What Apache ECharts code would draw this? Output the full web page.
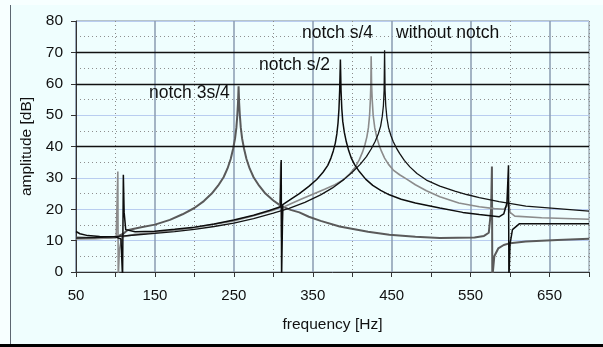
<!DOCTYPE html>
<html><head><meta charset="utf-8">
<script src="https://cdn.jsdelivr.net/npm/echarts@6/dist/echarts.min.js"></script>
<style>html,body{margin:0;padding:0;background:#f7ffff;}#c{width:603px;height:347px;}</style>
</head><body><div id="c"></div>
<script>
// ---- data (frequency [Hz], amplitude [dB]) ----
const withoutNotch = [[50,10.8],[75,11],[100,11.3],[125,11.8],[150,12.3],[175,12.9],[200,13.6],[225,14.5],[250,15.6],[275,17],[300,18.8],[320,20.3],[340,22.2],[360,24.6],[375,26.8],[390,29.6],[400,31.8],[410,34.3],[418,36.8],[424,39.2],[429,41.6],[433,44],[436,46.5],[438,49.5],[439.5,53],[440.4,58],[441,70.7],[441.6,58],[442.5,53],[444,49],[446,46],[449,43.5],[452,41.5],[456,39.5],[460,37.8],[466,35.6],[473,33.5],[482,31.4],[494,29.3],[511,27.4],[530,25.8],[545,24.7],[561,23.7],[586,22.4],[620,21],[660,20.2],[700,19.4]];
const notchS4 = [[50,10.5],[75,10.6],[95,10.9],[101,11.5],[103,32],[103.5,-2],[105,7],[108,11.2],[125,12],[150,12.6],[175,13.3],[200,14.1],[225,15.2],[250,16.3],[275,17.9],[300,19.7],[308,20.5],[309.5,35],[310.5,11],[312,20.6],[320,21.5],[335,23.2],[350,24.8],[365,26.4],[378,27.8],[388,29.3],[397,31.3],[404,33.5],[409,35.8],[413,38.2],[416,40.5],[418.5,43],[420.5,46],[422,50],[423,55],[423.6,60],[424,68.8],[424.5,60],[425.3,55],[426.5,50],[428.5,46],[431,43],[434,40.5],[437,38.5],[441,36.3],[446,34.3],[452,32.5],[460,31],[469,29.6],[480,27.8],[494,25.9],[511,24],[535,22],[561,20.8],[580,20.2],[592,20],[596,21],[598,22.5],[600,19],[606,17.8],[640,17.3],[700,16.8]];
const notchS2 = [[50,12.9],[55,12.2],[65,11.6],[80,11.3],[100,11.2],[107,10.5],[109,-2],[110,31],[111,19],[113,13.5],[125,12.8],[150,13],[175,13.6],[200,14.3],[225,15.3],[250,16.6],[275,18.1],[295,19.6],[309,20.8],[310,35.7],[310.5,-2],[312,21.5],[320,22.8],[333,25],[345,27.3],[355,29.5],[363,31.8],[369,34],[373,36.3],[376,38.6],[378.5,41],[380.5,44],[382,47.5],[383.2,52],[384.1,58],[385,67.7],[385.8,58],[386.8,52],[388,48],[390,44.5],[392.5,41.5],[395.5,38.7],[399,36.2],[403,34.2],[409,32],[417,29.6],[426,27.6],[436,26],[447,24.6],[462,23.2],[480,22],[511,20.4],[540,19],[561,18.3],[586,17.6],[592,18.5],[596,22],[598,34],[598.5,-2],[600,9],[603,13.5],[612,15.4],[650,15.4],[700,15.4]];
const notch3S4 = [[50,11],[75,10.8],[100,11],[110,12.2],[115,13.3],[131,14.2],[150,15.1],[169,16.6],[185,18.4],[200,20.4],[212,22.6],[222,25],[230,27.5],[237,30.2],[242,33],[246,36],[249,39.2],[251.5,42.5],[253.2,46],[254.4,50],[255.3,54],[256,59.2],[256.7,54],[257.6,50],[258.8,46],[260.5,42.5],[263,39.2],[266,36],[270,33],[275,30.2],[282,27.5],[290,25],[300,22.8],[310,21],[322,19.8],[333,19],[345,17.6],[360,16.3],[384,14.5],[420,12.8],[447,11.9],[480,11.2],[511,10.8],[555,11],[567,11.5],[573,12.5],[576,20],[577,33.6],[577.5,-2],[580,5],[585,7.5],[592,8.6],[600,9.2],[620,9.7],[660,10.2],[700,10.6]];
const seriesNames = ['without notch','notch s/4','notch s/2','notch 3s/4'];
const xTicks = [50,150,250,350,450,550,650];
const yTicks = [0,10,20,30,40,50,60,70,80];
const darkGridValues = [40,60,70];
const labels = [
  {text:'notch 3s/4', x:149, y:94},
  {text:'notch s/2', x:259, y:66},
  {text:'notch s/4', x:302, y:34},
  {text:'without notch', x:396, y:34}
];

const chart = echarts.init(document.getElementById('c'), null, {renderer:'canvas'});
const F = 'Liberation Sans, Arial, sans-serif';
chart.setOption({
  backgroundColor:'#f7ffff',
  animation:false,
  graphic:[
    {type:'rect', z:-10, shape:{x:10,y:5,width:593,height:339}, style:{fill:'#effefe'}},
    {type:'line', z:-9, shape:{x1:10.5,y1:5,x2:10.5,y2:344}, style:{stroke:'#5c6670', lineWidth:1}},
    {type:'rect', z:-9, shape:{x:0,y:344,width:603,height:3}, style:{fill:'#000'}}
  ].concat(labels.map(l=>({type:'text', left:l.x, top:l.y-10, z:50, style:{text:l.text, font:'17.5px '+F, fill:'#111'}}))),
  grid:{left:76, right:14, top:21, bottom:75, show:true, borderColor:'#7d8a99', borderWidth:1, backgroundColor:'transparent'},
  xAxis:[{
    type:'value', min:50, max:700, interval:50,
    name:'frequency [Hz]', nameLocation:'middle', nameGap:45,
    nameTextStyle:{fontFamily:F, fontSize:15.5, color:'#111'},
    axisLine:{show:true, onZero:false, lineStyle:{color:'#333', width:1}},
    axisTick:{show:true, length:5, inside:false, lineStyle:{color:['#333','transparent']}, interval:0},
    axisLabel:{fontFamily:F, fontSize:15, color:'#111', margin:16, formatter:v=>xTicks.indexOf(v)>=0?String(v):''},
    splitLine:{show:true, lineStyle:{color:['#8a9bb0','transparent'], width:1.5}}
  },{
    type:'value', min:50, max:700, interval:50, position:'bottom',
    axisLine:{show:false}, axisTick:{show:false}, axisLabel:{show:false},
    splitLine:{show:true, lineStyle:{color:['transparent','#8a8a8a'], type:[1,3], width:1}}
  }],
  yAxis:[{
    type:'value', min:0, max:80, interval:10,
    name:'amplitude [dB]', nameLocation:'middle', nameGap:35, nameRotate:90,
    nameTextStyle:{fontFamily:F, fontSize:15.5, color:'#111'},
    axisLine:{show:true, lineStyle:{color:'#333', width:1}},
    axisTick:{show:true, length:5, lineStyle:{color:'#333'}},
    axisLabel:{fontFamily:F, fontSize:15.5, color:'#111', margin:13, formatter:v=>yTicks.indexOf(v)>=0?String(v):''},
    splitLine:{show:true, lineStyle:{color:'#b9cdf0', width:1.2}}
  },{
    type:'value', min:0, max:80, interval:5, position:'left',
    axisLine:{show:false}, axisTick:{show:false}, axisLabel:{show:false},
    splitLine:{show:true, lineStyle:{color:['transparent','#8f8f8f'], type:[1,3], width:1}}
  }],
  series:[
    {name:'grid', type:'line', data:[], silent:true, z:1,
     markLine:{silent:true, symbol:'none', label:{show:false}, lineStyle:{color:'#111', type:'solid', width:1.3},
       data:darkGridValues.map(v=>({yAxis:v}))}},
    {name:seriesNames[0], type:'line', data:withoutNotch, showSymbol:false, z:5, lineStyle:{color:'#151515', width:1.3}},
    {name:seriesNames[1], type:'line', data:notchS4, showSymbol:false, z:4, lineStyle:{color:'#8c8c8c', width:1.6}},
    {name:seriesNames[2], type:'line', data:notchS2, showSymbol:false, z:6, lineStyle:{color:'#0d0d0d', width:1.5}},
    {name:seriesNames[3], type:'line', data:notch3S4, showSymbol:false, z:3, lineStyle:{color:'#5a5a5a', width:2}}
  ]
});
</script></body></html>
